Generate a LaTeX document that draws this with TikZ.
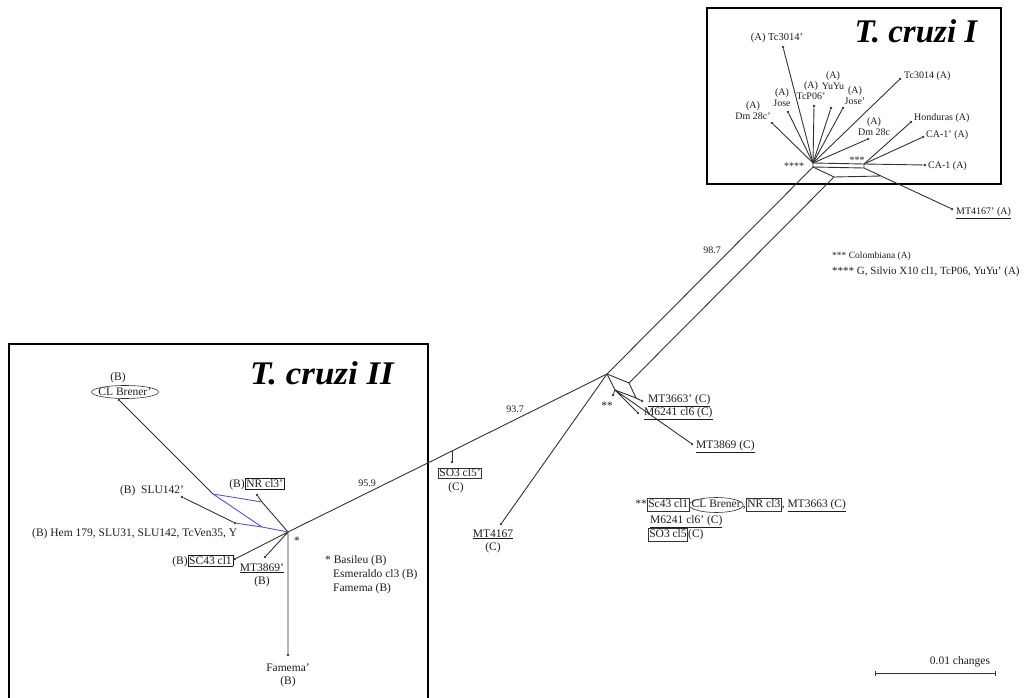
\documentclass[tikz,border=0pt]{standalone}
\usepackage{fontspec}
\setmainfont{Liberation Serif}
\usetikzlibrary{shapes.geometric}
\definecolor{ln}{HTML}{333333}
\definecolor{bl}{HTML}{5058D8}
\definecolor{tx}{HTML}{1E1E1E}
\begin{document}
\begin{tikzpicture}[x=1pt,y=-1pt,
  edge/.style={draw=ln, line width=0.9pt},
  blueedge/.style={draw=bl, line width=0.9pt},
  leaf/.style={circle, fill=ln, inner sep=0pt, minimum size=2.6pt},
  lbl/.style={font=\fontsize{11.5}{13}\selectfont, inner sep=0pt, text=tx, align=center},
  slbl/.style={font=\fontsize{10}{11}\selectfont, inner sep=0pt, text=tx, align=center},
  nlbl/.style={font=\fontsize{10}{12}\selectfont, inner sep=0pt, text=tx},
  leg/.style={font=\fontsize{9.5}{11}\selectfont, inner sep=0pt, text=tx},
  boxed/.style={draw=ln, line width=0.6pt, inner sep=1pt},
  ringline/.style={draw=ln, line width=0.6pt},
  chain/.style={text height=8pt, text depth=2.5pt},
  frame/.style={draw=black, line width=1.1pt},
  title/.style={font=\fontsize{33}{35}\selectfont\bfseries\itshape, inner sep=0pt, text=black}]

\useasboundingbox (0,0) rectangle (1029,698);
\fill[white] (0,0) rectangle (1029,698);

% frames
\draw[frame] (707,8) rectangle (1001,184);
\draw[frame] (9,698) -- (9,344) -- (428,344) -- (428,698);
\node[title] (t1) at (916,31) {T. cruzi I};
\node[title, xscale=1.06] (t2) at (322,373) {T. cruzi II};

% ---------- T. cruzi I ----------
\coordinate (h1) at (813,163);
\coordinate (h2) at (813,167);
\coordinate (s1) at (864,164);
\coordinate (s2) at (864,168);
\coordinate (b1) at (834,177);
\coordinate (b2) at (881,176);

\node[leaf] (tc3014p) at (783,47) {};
\node[leaf] (dm28cp) at (772,123) {};
\node[leaf] (jose) at (788,112) {};
\node[leaf] (tcp06p) at (814,106) {};
\node[leaf] (yuyu) at (831,108) {};
\node[leaf] (josep) at (843,108) {};
\node[leaf] (dm28c) at (868,139) {};
\node[leaf] (tc3014) at (900,79) {};
\node[leaf] (hond) at (911,122) {};
\node[leaf] (ca1p) at (923,137) {};
\node[leaf] (ca1) at (925,165) {};
\node[leaf] (mt4167p) at (952,209) {};

\foreach \n in {tc3014p,dm28cp,jose,tcp06p,yuyu,josep,dm28c,tc3014}
  \draw[edge] (h1) -- (\n);
\foreach \n in {hond,ca1p,ca1}
  \draw[edge] (s1) -- (\n);
\draw[edge] (h1) -- (s1) (h2) -- (s2) (h1) -- (h2) (s1) -- (s2);
\draw[edge] (h2) -- (b1) -- (b2) (s2) -- (b2) -- (mt4167p);

\node[slbl, font=\fontsize{10.5}{11}\selectfont] (l-tc3014p) at (777,38) {(A) Tc3014’};
\node[slbl] (l-dm28cp) at (753,111) {(A)\\Dm 28c’};
\node[slbl] (l-jose) at (782,98) {(A)\\Jose};
\node[slbl] (l-tcp06p) at (811,91) {(A)\\TcP06’};
\node[slbl] (l-yuyu) at (833,81) {(A)\\YuYu};
\node[slbl] (l-josep) at (855,96) {(A)\\Jose’};
\node[slbl] (l-dm28c) at (874,127) {(A)\\Dm 28c};
\node[slbl, anchor=west] (l-tc3014) at (904,76) {Tc3014 (A)};
\node[slbl, anchor=west] (l-hond) at (914,118) {Honduras (A)};
\node[slbl, anchor=west] (l-ca1p) at (926,135) {CA-1’ (A)};
\node[slbl, anchor=west] (l-ca1) at (928,166) {CA-1 (A)};
\node[nlbl, anchor=west] (l-mt4167p) at (956,213) {\underline{MT4167’ (A)}};
\node[slbl] (st4) at (794,166) {****};
\node[slbl] (st3) at (857,160) {***};

\node[leg, anchor=west] (leg3) at (832,256) {*** Colombiana (A)};
\node[leg, anchor=west, font=\fontsize{11}{12}\selectfont] (leg4) at (832,272) {**** G, Silvio X10 cl1, TcP06, YuYu’ (A)};

% ---------- central ----------
\coordinate (c) at (607,374);
\coordinate (p3) at (629,383);
\coordinate (q1) at (615,390);
\coordinate (q2) at (636,398);
\draw[edge] (h2) -- (c) (b1) -- (p3) (c) -- (p3);
\draw[edge] (c) -- (q1) -- (q2) -- (p3);
\node[leaf] (mt3663p) at (642,401) {};
\node[leaf] (m6241) at (638,413) {};
\node[leaf] (mt3869) at (692,444) {};
\node[leaf] (ddot) at (613,395) {};
\draw[edge] (q2) -- (mt3663p) (q1) -- (m6241) (q1) -- (mt3869) (q1) -- (ddot);
\node[lbl, anchor=west] (l-mt3663p) at (648,401) {\underline{MT3663’ (C)}};
\node[lbl, anchor=west] (l-m6241) at (644,414) {\underline{M6241 cl6 (C)}};
\node[lbl, anchor=west] (l-mt3869) at (696,447) {\underline{MT3869 (C)}};
\node[lbl] (st2) at (607,406) {**};
\node[nlbl] (n987) at (712,250) {98.7};

\node[leaf] (mt4167) at (501,524) {};
\draw[edge] (c) -- (mt4167);
\node[lbl] (l-mt4167) at (493,541) {\underline{MT4167}\\(C)};

% ---------- T. cruzi II ----------
\coordinate (h3) at (288,532);
\coordinate (j) at (452,451);
\node[leaf] (so3) at (452,462) {};
\draw[edge] (h3) -- (j) -- (c);
\draw[edge] (j) -- (so3);
\node[lbl, boxed] (l-so3) at (460,473) {SO3 cl5’};
\node[lbl] (l-so3b) at (456,488) {(C)};
\node[nlbl] (n937) at (515,409) {93.7};
\node[nlbl] (n959) at (367,483) {95.9};

\coordinate (A) at (213,494);
\coordinate (B) at (262,502);
\coordinate (E) at (262,527);
\node[leaf] (D) at (235,523) {};
\node[leaf] (famp) at (288,655) {};
\node[leaf] (sc43) at (235,559) {};
\node[leaf] (mt3869p) at (265,557) {};
\node[leaf] (nr) at (257,495) {};
\node[leaf] (clb) at (119,400) {};
\node[leaf] (slu) at (182,497) {};

\draw[edge] (h3) -- (famp) (h3) -- (sc43) (h3) -- (mt3869p) (h3) -- (B) -- (nr);
\draw[edge] (clb) -- (A) (slu) -- (D);
\draw[blueedge] (A) -- (B) (A) -- (E) (D) -- (E) -- (h3);

\node[lbl] (l-famp) at (288,675) {Famema’\\(B)};
\node[lbl, anchor=east] (l-sc43) at (233.5,561) {(B)\fboxsep=1pt\fboxrule=0.6pt\fbox{SC43 cl1}};
\node[lbl] (l-mt3869p) at (262,575) {\underline{MT3869’}\\(B)};
\node[lbl] (l-nr) at (257,484) {(B)\fboxsep=1pt\fboxrule=0.6pt\fbox{NR cl3’}};
\node[lbl] (l-clb) at (125,392) {CL Brener’};
\draw[ringline] (l-clb.center) ellipse [x radius=33.5pt, y radius=6.5pt];
\node[lbl] (l-clbB) at (118,378) {(B)};
\node[lbl] (l-slu) at (152,491) {(B)\ \ SLU142’};
\node[lbl, anchor=west] (l-hem) at (32,534) {(B) Hem 179, SLU31, SLU142, TcVen35, Y};
\node[lbl] (st1) at (297,541) {*};
\node[lbl, anchor=west] (leg1) at (325,561) {* Basileu (B)};
\node[lbl, anchor=west] (leg1b) at (333,575) {Esmeraldo cl3 (B)};
\node[lbl, anchor=west] (leg1c) at (333,589) {Famema (B)};

% ---------- bottom legend ----------
\node[lbl, chain, anchor=east] (lg0) at (647,505) {**};
\node[lbl, chain, boxed, anchor=west] (lg1) at (647,505) {Sc43 cl1};
\node[lbl, chain, anchor=west, inner xsep=2pt] (lg2) at (lg1.east) {CL Brener};
\draw[ringline] (lg2.center) ellipse [x radius=27pt, y radius=7.5pt];
\node[lbl, chain, anchor=west] (lg3) at (lg2.east) {,};
\node[lbl, chain, boxed, anchor=west] (lg4) at (lg3.east) {NR cl3};
\node[lbl, chain, anchor=west] (lg5) at (lg4.east) {, \underline{MT3663 (C)}};
\node[lbl, chain, anchor=west] (lg6) at (650,521) {\underline{M6241 cl6’ (C)}};
\node[lbl, chain, boxed, anchor=west] (lg7) at (648,535) {SO3 cl5};
\node[lbl, chain, anchor=west] (lg8) at (lg7.east) {(C)};

% ---------- scale bar ----------
\coordinate (sb1) at (875,673);
\coordinate (sb2) at (995,673);
\draw[edge] (sb1) -- (sb2);
\draw[edge] ([yshift=-2.5pt]sb1) -- ([yshift=2.5pt]sb1);
\draw[edge] ([yshift=-2.5pt]sb2) -- ([yshift=2.5pt]sb2);
\node[lbl] (l-sb) at (960,662) {0.01 changes};
\end{tikzpicture}
\end{document}
